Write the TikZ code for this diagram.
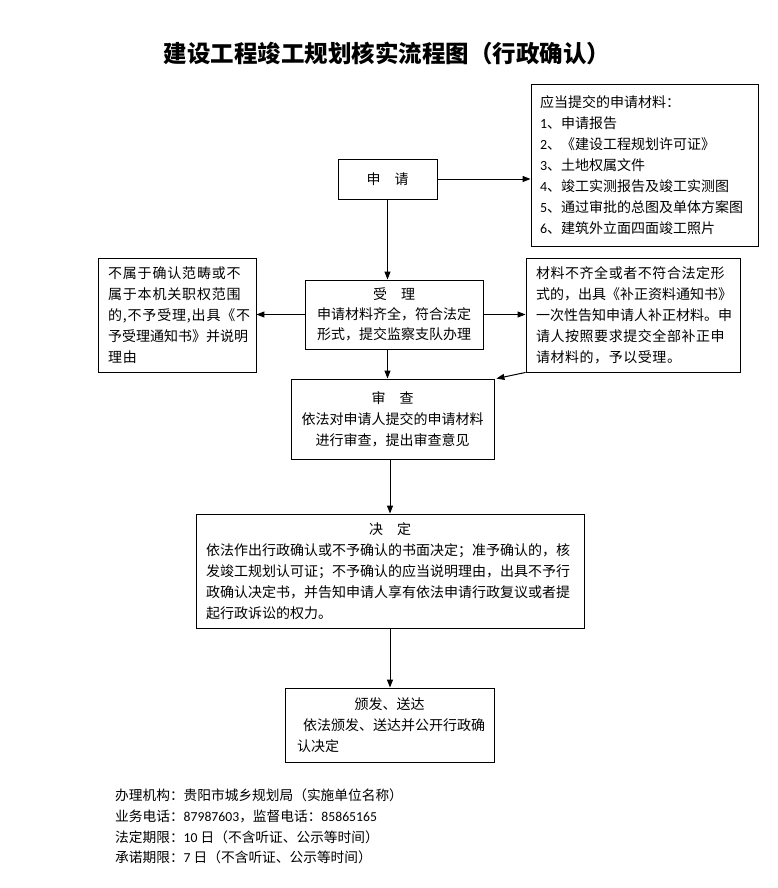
\documentclass[tikz,border=0pt]{standalone}
\usepackage{fontspec}
\setmainfont{Noto Sans CJK SC}
\newfontfamily\lat{Carlito}
\newfontfamily\cjkl[LetterSpace=6]{Noto Sans CJK SC}
\newfontfamily\cjkr[LetterSpace=4]{Noto Sans CJK SC}
\newfontfamily\cjkn{Noto Sans CJK SC}
\usetikzlibrary{arrows.meta}
\begin{document}
\begin{tikzpicture}[x=1pt,y=-1pt,
  box/.style={draw=black, line width=0.9pt, inner ysep=0pt, inner xsep=0pt,
    font=\fontsize{14}{21}\selectfont},
  arr/.style={-{Triangle[width=6pt,length=8pt]}, line width=1pt},
  foot/.style={anchor=west, inner sep=0pt, font=\fontsize{13.7}{16}\selectfont}]
\useasboundingbox[fill=white] (0,0) rectangle (778,888);

\node[font=\bfseries\fontsize{23.5}{28}\selectfont] (title) at (387,53)
  {建设工程竣工规划核实流程图（行政确认）};

\node[box, minimum width=99pt, minimum height=40pt] (sq) at (387.5,179) {申　请};

\node[box, minimum width=227pt, minimum height=162pt, inner xsep=9pt,
      text width=209pt, align=left] (cl) at (644.5,165)
  {应当提交的申请材料：\\
   {\lat 1}、申请报告\\
   {\lat 2}、《建设工程规划许可证》\\
   {\lat 3}、土地权属文件\\
   {\lat 4}、竣工实测报告及竣工实测图\\
   {\lat 5}、通过审批的总图及单体方案图\\
   {\lat 6}、建筑外立面四面竣工照片};

\node[box, minimum width=178pt, minimum height=69pt, align=center,
      font=\fontsize{14}{20}\selectfont] (sl) at (394,314.5)
  {受　理\\申请材料齐全，符合法定\\形式，提交监察支队办理};

\node[box, minimum width=158pt, minimum height=114pt, inner xsep=10pt,
      text width=138pt, align=left, font=\cjkl\fontsize{14}{21}\selectfont] (nl) at (177,315)
  {不属于确认范畴或不\\属于本机关职权范围\\的,不予受理,出具《不\\{\cjkn 予受理通知书》并说明}\\理由};

\node[box, minimum width=214pt, minimum height=114pt, inner xsep=10pt,
      text width=194pt, align=left, font=\cjkr\fontsize{14}{21}\selectfont] (bz) at (633,315)
  {材料不齐全或者不符合法定形\\{\cjkn 式的，出具《补正资料通知书》}\\{\cjkn 一次性告知申请人补正材料。申}\\请人按照要求提交全部补正申\\请材料的，予以受理。};

\node[box, minimum width=203pt, minimum height=80pt, align=center] (sc) at (392.5,419)
  {审　查\\依法对申请人提交的申请材料\\进行审查，提出审查意见};

\node[box, minimum width=388pt, minimum height=114pt, inner xsep=10pt,
      text width=368pt, align=left] (jd) at (390,571)
  {\makebox[368pt]{决　定}\\
   依法作出行政确认或不予确认的书面决定；准予确认的，核\\
   发竣工规划认可证；不予确认的应当说明理由，出具不予行\\
   政确认决定书，并告知申请人享有依法申请行政复议或者提\\
   起行政诉讼的权力。};

\node[box, minimum width=209pt, minimum height=74pt, inner xsep=12pt,
      text width=185pt, align=left] (bf) at (389.5,725)
  {\makebox[185pt]{颁发、送达}\\
   \hspace*{6pt}依法颁发、送达并公开行政确\\
   认决定};

\draw[arr] (sq.east) -- (sq.east -| cl.west);
\draw[arr] (sq.south) -- (sq.south |- sl.north);
\draw[arr] (sl.west) -- (sl.west -| nl.east);
\draw[arr] (sl.east) -- (sl.east -| bz.west);
\draw[arr] (sl.south -| sq.south) -- (sq.south |- sc.north);
\draw[arr] (bz.south west) -- ([xshift=2pt]sc.north east);
\draw[arr] (jd.north |- sc.south) -- (jd.north);
\draw[arr] (jd.south) -- (jd.south |- bf.north);

\node[foot] (f1) at (115,795) {办理机构：贵阳市城乡规划局（实施单位名称）};
\node[foot] (f2) at (115,816) {业务电话：{\lat 87987603}，监督电话：{\lat 85865165}};
\node[foot] (f3) at (115,837) {法定期限：{\lat 10} 日（不含听证、公示等时间）};
\node[foot] (f4) at (115,857) {承诺期限：{\lat 7} 日（不含听证、公示等时间）};
\end{tikzpicture}
\end{document}
